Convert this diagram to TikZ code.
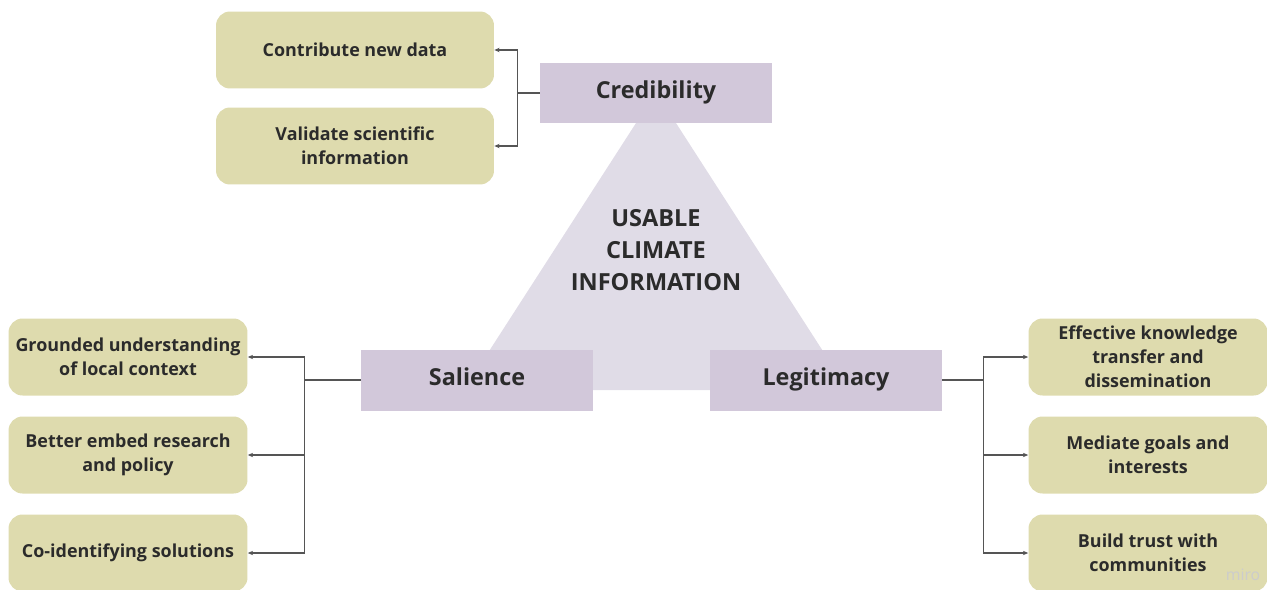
\documentclass[tikz,border=0pt]{standalone}
\usepackage{fontspec}
\setmainfont{Open Sans}
\usetikzlibrary{arrows.meta}
\definecolor{khaki}{HTML}{DEDBAE}
\definecolor{lilac}{HTML}{D2C8DA}
\definecolor{lilacpale}{HTML}{E0DCE7}
\definecolor{inkgray}{HTML}{2B2B2B}
\definecolor{wiregray}{HTML}{555555}

\begin{document}
\begin{tikzpicture}[x=0.02cm, y=-0.02cm,
    pillar/.style={fill=lilac, minimum width=4.64cm, minimum height=1.22cm, text height=1.6ex, text depth=0.5ex, text=inkgray, font=\fontsize{13.3}{15}\selectfont\bfseries},
    item/.style={fill=khaki, rounded corners=0.28cm, minimum height=1.54cm, inner sep=0pt, align=center, text=inkgray, font=\fontsize{10.2}{13.6}\selectfont\bfseries},
    wide/.style={item, minimum width=5.56cm},
    side/.style={item, minimum width=4.78cm},
    link/.style={draw=wiregray, line width=0.6pt, -{Stealth[length=3pt,width=2.5pt]}}]
      \useasboundingbox (0,0) rectangle (1267,589);
      \fill[lilacpale] (656,92) -- (464,390) -- (848,390) -- cycle;
      \node[text=inkgray, align=center, font=\fontsize{13.4}{18.4}\selectfont\bfseries] (usable) at (656,250) {USABLE\\CLIMATE\\INFORMATION};
      \node[pillar] (cred) at (656,93) {Credibility};
      \node[pillar] (sal) at (477,380) {Salience};
      \node[pillar] (leg) at (826,380) {Legitimacy};
      \node[wide] (contrib) at (355,50) {Contribute new data};
      \node[wide] (valid) at (355,146) {Validate scientific\\information};
      \node[side] (ground) at (128,357) {Grounded understanding\\of local context};
      \node[side] (embed) at (128,455) {Better embed research\\and policy};
      \node[side] (coid) at (128,553) {Co-identifying solutions};
      \node[side] (know) at (1148,357) {Effective knowledge\\transfer and\\dissemination};
      \node[side] (goals) at (1148,455) {Mediate goals and\\interests};
      \node[side] (trust) at (1148,553) {Build trust with\\communities};
      \node[text=gray!40, font=\fontsize{9}{10}\selectfont] (wmark) at (1243,575) {miro};
      \draw[link] (cred.west) -- ++(-22,0) |- (contrib.east);
      \draw[link] (cred.west) -- ++(-22,0) |- (valid.east);
      \draw[link] (sal.west) -- ++(-56,0) |- (ground.east);
      \draw[link] (sal.west) -- ++(-56,0) |- (embed.east);
      \draw[link] (sal.west) -- ++(-56,0) |- (coid.east);
      \draw[link] (leg.east) -- ++(41,0) |- (know.west);
      \draw[link] (leg.east) -- ++(41,0) |- (goals.west);
      \draw[link] (leg.east) -- ++(41,0) |- (trust.west);
\end{tikzpicture}
\end{document}
